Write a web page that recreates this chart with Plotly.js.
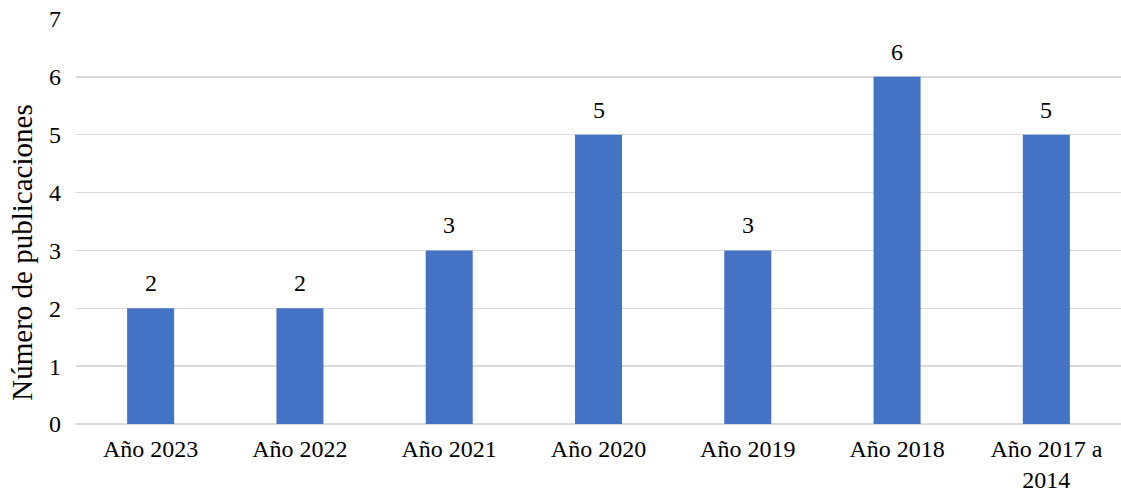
<!DOCTYPE html>
<html>
<head>
<meta charset="utf-8">
<script src="https://cdn.plot.ly/plotly-3.0.1.min.js"></script>
<style>html,body{margin:0;padding:0;background:#fff;}#chart{width:1121px;height:494px;}</style>
</head>
<body>
<div id="chart"></div>
<script>
const categories = ["Año 2023", "Año 2022", "Año 2021", "Año 2020", "Año 2019", "Año 2018", "Año 2017 a<br>2014"];
const publicaciones = [2, 2, 3, 5, 3, 6, 5];
const yTickValues = [0, 1, 2, 3, 4, 5, 6, 7];
const yTitle = "Número de publicaciones";

const fontFamily = "'Liberation Serif', 'Times New Roman', serif";

const trace = {
  type: "bar",
  x: categories,
  y: publicaciones,
  width: 0.315,
  marker: { color: "#4472C4" },
  hoverinfo: "skip"
};

const labelAnnotations = categories.map((c, i) => ({
  x: c, y: publicaciones[i], xref: "x", yref: "y",
  text: String(publicaciones[i]), showarrow: false,
  yanchor: "bottom", yshift: 10,
  font: { family: fontFamily, size: 24, color: "#000" }
}));

const layout = {
  width: 1121, height: 494,
  margin: { l: 76, r: 0, t: 19, b: 70 },
  paper_bgcolor: "#fff", plot_bgcolor: "#fff",
  showlegend: false,
  font: { family: fontFamily, size: 24, color: "#000" },
  xaxis: {
    type: "category",
    showgrid: false, zeroline: false, showline: false,
    ticks: "", ticklabelstandoff: 8,
    tickfont: { family: fontFamily, size: 24, color: "#000" },
    automargin: false
  },
  yaxis: {
    range: [0, 7], tickvals: yTickValues, ticktext: yTickValues.map(String),
    showgrid: true, gridcolor: "#D9D9D9", gridwidth: 1.5,
    zeroline: true, zerolinecolor: "#D9D9D9", zerolinewidth: 1.5,
    showline: false, ticks: "", ticklabelstandoff: 14,
    tickfont: { family: fontFamily, size: 24, color: "#000" },
    automargin: false
  },
  annotations: labelAnnotations.concat([{
    xref: "paper", yref: "paper", x: -0.0517, y: 0.423,
    xanchor: "center", yanchor: "middle", textangle: -90,
    text: yTitle, showarrow: false,
    font: { family: fontFamily, size: 29, color: "#000" }
  }])
};

Plotly.newPlot("chart", [trace], layout, { displayModeBar: false, staticPlot: true });
</script>
</body>
</html>
